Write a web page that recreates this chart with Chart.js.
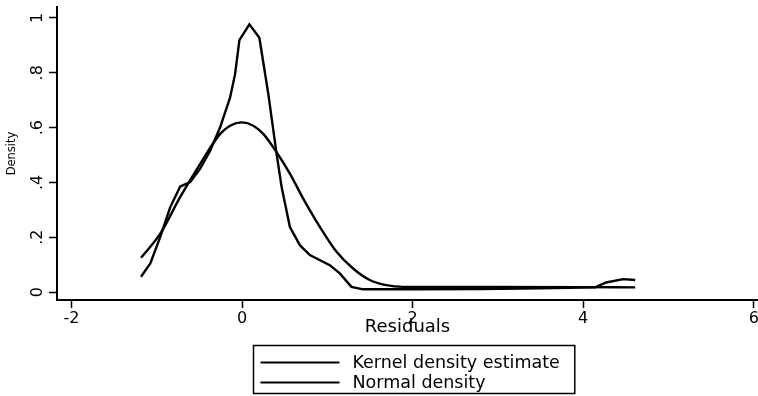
<!DOCTYPE html>
<html><head><meta charset="utf-8">
<script src="https://cdn.jsdelivr.net/npm/chart.js@4/dist/chart.umd.min.js"></script>
<style>html,body{margin:0;padding:0;background:#fff}#wrap{width:758px;height:396px}</style>
</head><body><div id="wrap"><canvas id="c" width="758" height="396"></canvas></div>
<script>
const seriesNames = ['Kernel density estimate', 'Normal density'];
const kdeX = [-1.185, -1.076, -0.959, -0.842, -0.725, -0.608, -0.491, -0.374, -0.257, -0.140, -0.082, -0.031, 0.086, 0.203, 0.308, 0.405, 0.464, 0.561, 0.678, 0.795, 1.029, 1.146, 1.283, 1.419, 2.0, 2.8, 3.5, 4.14, 4.27, 4.47, 4.61];
const kdeY = [0.056, 0.104, 0.201, 0.310, 0.385, 0.401, 0.450, 0.516, 0.601, 0.710, 0.795, 0.919, 0.977, 0.928, 0.722, 0.504, 0.383, 0.237, 0.171, 0.135, 0.098, 0.068, 0.019, 0.010, 0.010, 0.011, 0.014, 0.017, 0.035, 0.047, 0.044];
const normX = [-1.185, -0.959, -0.725, -0.491, -0.257, -0.140, -0.004, 0.132, 0.249, 0.405, 0.561, 0.717, 0.912, 1.108, 1.302, 1.497, 1.692, 1.887, 2.08, 2.8, 4.0, 4.61];
const normY = [0.125, 0.213, 0.347, 0.468, 0.577, 0.607, 0.619, 0.607, 0.577, 0.510, 0.432, 0.341, 0.238, 0.147, 0.086, 0.044, 0.025, 0.019, 0.019, 0.019, 0.018, 0.017];
const xTickValues = [-2, 0, 2, 4, 6];
const xTickLabels = ['-2', '0', '2', '4', '6'];
const yTickValues = [0, 0.2, 0.4, 0.6, 0.8, 1];
const yTickLabels = ['0', '.2', '.4', '.6', '.8', '1'];
const xTitle = 'Residuals';
const yTitle = 'Density';

const FONT = 'DejaVu Sans';
const toPts = (xs, ys) => xs.map((x, i) => ({x: x, y: ys[i]}));

const boxLegend = {
  id: 'boxLegend',
  afterDraw(chart) {
    const ctx = chart.ctx, ca = chart.chartArea;
    ctx.save();
    ctx.font = '17.5px "' + FONT + '"';
    const names = chart.data.datasets.map(d => d.label);
    const tw = Math.max(...names.map(n => ctx.measureText(n).width));
    const padL = 7, sample = 79, gap = 13, padR = 15;
    const w = padL + sample + gap + tw + padR;
    const left = Math.round((ca.left + ca.right) / 2 - w / 2 + 6) + 0.5;
    const top = ca.bottom + 45.5;
    const h = 48;
    ctx.strokeStyle = '#000';
    ctx.lineWidth = 1.5;
    ctx.strokeRect(left, top, w, h);
    chart.data.datasets.forEach((d, i) => {
      const y = top + 17 + i * 20;
      ctx.beginPath();
      ctx.lineWidth = 2;
      ctx.moveTo(left + padL, y);
      ctx.lineTo(left + padL + sample, y);
      ctx.stroke();
      ctx.fillStyle = '#000';
      ctx.textBaseline = 'middle';
      ctx.textAlign = 'left';
      ctx.fillText(d.label, left + padL + sample + gap, y + 1);
    });
    ctx.restore();
  }
};

new Chart(document.getElementById('c'), {
  type: 'line',
  data: {
    datasets: [
      {label: seriesNames[0], data: toPts(kdeX, kdeY), borderColor: '#000', borderWidth: 2.4, pointRadius: 0, tension: 0, fill: false},
      {label: seriesNames[1], data: toPts(normX, normY), borderColor: '#000', borderWidth: 2.4, pointRadius: 0, cubicInterpolationMode: 'monotone', fill: false}
    ]
  },
  options: {
    responsive: false,
    animation: false,
    devicePixelRatio: 1,
    layout: {padding: {top: 7, right: 0, bottom: 55, left: 0}},
    plugins: {legend: {display: false}, tooltip: {enabled: false}},
    scales: {
      x: {
        type: 'linear', min: -2.17, max: 6.05,
        afterBuildTicks: s => { s.ticks = xTickValues.map(v => ({value: v})); },
        afterFit: s => { s.height = 41; s.paddingLeft = 0; s.paddingRight = 0; },
        ticks: {callback: (v, i) => xTickLabels[i], color: '#000', font: {family: FONT, size: 16}, padding: 1, maxRotation: 0, minRotation: 0, autoSkip: false},
        grid: {drawOnChartArea: false, drawTicks: true, tickLength: 8, tickColor: '#000', tickWidth: 1.5},
        border: {display: true, color: '#000', width: 2},
        title: {display: true, text: xTitle, color: '#000', font: {family: FONT, size: 18}, padding: {top: 0, bottom: 3}}
      },
      y: {
        type: 'linear', min: -0.029, max: 1.04,
        afterBuildTicks: s => { s.ticks = yTickValues.map(v => ({value: v})); },
        afterFit: s => { s.width = 57; s.paddingTop = 0; s.paddingBottom = 0; },
        ticks: {callback: (v, i) => yTickLabels[i], color: '#000', font: {family: FONT, size: 16}, padding: 4, minRotation: 90, maxRotation: 90, crossAlign: 'center', autoSkip: false},
        grid: {drawOnChartArea: false, drawTicks: true, tickLength: 8, tickColor: '#000', tickWidth: 1.5},
        border: {display: true, color: '#000', width: 2},
        title: {display: true, text: yTitle, color: '#000', font: {family: FONT, size: 11.5}, padding: {top: 5, bottom: 0}}
      }
    }
  },
  plugins: [boxLegend]
});
</script>
</body></html>
